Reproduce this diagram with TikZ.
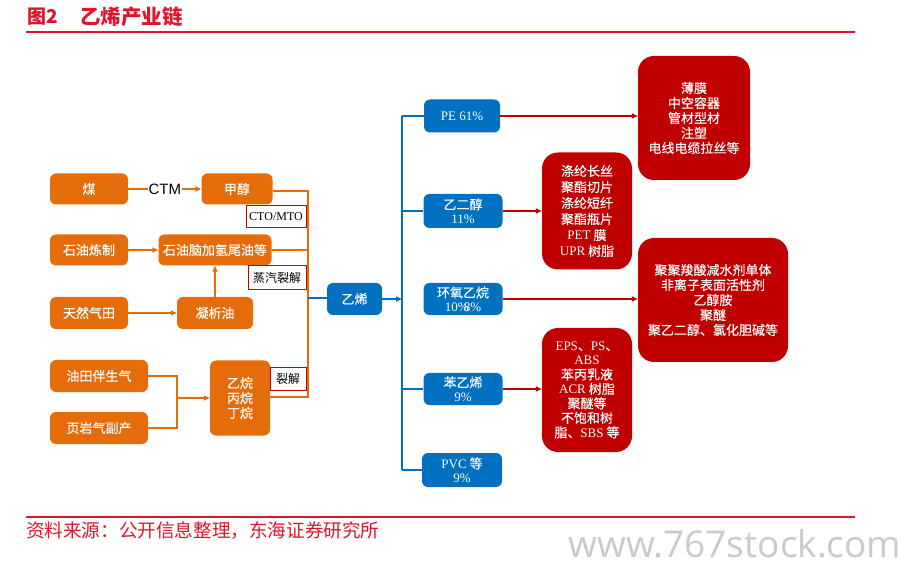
\documentclass[tikz,border=0pt]{standalone}
\usepackage{fontspec}
\setmainfont{Noto Sans CJK SC}
\newfontfamily\cjkm[FakeBold=0.3]{Noto Sans CJK SC}
\newfontfamily\lat{Liberation Serif}
\newfontfamily\arial{Liberation Sans}
\newfontfamily\wm{Open Sans}
\usetikzlibrary{arrows.meta}
\definecolor{orangeC}{HTML}{E46C0A}
\definecolor{blueC}{HTML}{0070C0}
\definecolor{redC}{HTML}{C00000}
\definecolor{titleC}{HTML}{E0142B}
\definecolor{wmC}{HTML}{CACACA}
\tikzset{
  orbox/.style={fill=orangeC, rounded corners=6pt, text=white, font=\cjkm\fontsize{13}{15}\selectfont, inner sep=1pt, align=center},
  bluebox/.style={fill=blueC, rounded corners=6pt, text=white, font=\cjkm\fontsize{13}{14}\selectfont, inner sep=1pt, align=center},
  redbox/.style={fill=redC, rounded corners=16pt, text=white, font=\cjkm\fontsize{13}{15}\selectfont, inner sep=1pt, align=center},
  lblbox/.style={fill=white, draw=redC, line width=1pt, text=black, font=\fontsize{12}{14}\selectfont, inner sep=1pt},
  orline/.style={draw=orangeC, line width=1.6pt},
  blline/.style={draw=blueC, line width=1.6pt},
  rdline/.style={draw=redC, line width=1.4pt},
  tip/.style={-{Triangle[length=6pt,width=5pt]}},
  rule/.style={draw=titleC, line width=2pt}
}
\begin{document}
\begin{tikzpicture}[x=1pt,y=-1pt]
\useasboundingbox[fill=white] (0,0) rectangle (908,585);
% title
\node[anchor=west, text=titleC, font=\fontsize{19}{21}\selectfont\bfseries, inner sep=0pt] (t1) at (27,17) {图2};
\node[anchor=west, text=titleC, font=\fontsize{20.5}{22}\selectfont\bfseries, inner sep=0pt] (t2) at (80,17) {乙烯产业链};
\coordinate (ra) at (26,32); \coordinate (rb) at (855,32);
\draw[rule] (ra) -- (rb);
\coordinate (rc) at (26,517); \coordinate (rd) at (855,517);
\draw[rule] (rc) -- (rd);
\node[anchor=west, text=titleC, font=\fontsize{18.6}{20}\selectfont, inner sep=0pt] (src) at (26,531) {资料来源：公开信息整理，东海证券研究所};
\node[text=wmC, font=\wm\fontsize{37}{40}\selectfont, inner sep=0pt] (wm) at (735,544) {www.767stock.com};

% orange boxes
\node[orbox, minimum width=78, minimum height=31] (mei) at (89,189) {煤};
\node[orbox, minimum width=71, minimum height=31] (jc) at (237,189) {甲醇};
\node[orbox, minimum width=78, minimum height=31] (sylz) at (89,250) {石油炼制};
\node[orbox, minimum width=113, minimum height=31] (syn) at (215,250) {石油脑加氢尾油等};
\node[orbox, minimum width=78, minimum height=32] (trq) at (89,313) {天然气田};
\node[orbox, minimum width=76, minimum height=32] (nxy) at (215,313) {凝析油};
\node[orbox, minimum width=98, minimum height=32] (ytb) at (99,376) {油田伴生气};
\node[orbox, minimum width=98, minimum height=32] (yyq) at (99,428) {页岩气副产};
\node[orbox, minimum width=60, minimum height=75] (yw) at (240,398) {乙烷\\丙烷\\丁烷};

% orange connectors
\draw[orline, tip] (mei) -- node[fill=white, text=black, font=\arial\fontsize{15}{16}\selectfont, inner sep=1pt] (ctm) {CTM} (jc);
\draw[orline, tip] (sylz) -- (syn);
\draw[orline, tip] (trq) -- (nxy);
\draw[orline, tip] (nxy) -- (syn);
\coordinate (m1) at (177,376);
\coordinate (m2) at (177,428);
\coordinate (m3) at (177,398);
\draw[orline] (ytb.east |- m1) -- (m1) -- (m2) -- (yyq.east |- m2);
\draw[orline, tip] (m3) -- (m3 -| yw.west);
\coordinate (bt) at (308,191);
\coordinate (bm) at (308,250);
\coordinate (bx) at (308,298);
\coordinate (bb) at (308,397);
\draw[orline] (jc.east |- bt) -- (bt) -- (bb) -- (yw.east |- bb);
\draw[orline] (syn.east) -- (bm);
\node[lblbox, minimum width=60, minimum height=22] (cto) at (276,217) {\lat CTO/MTO};
\node[lblbox, minimum width=58, minimum height=24] (zq) at (277,278) {蒸汽裂解};
\node[lblbox, minimum width=36, minimum height=22] (lj) at (288,379) {裂解};

% ethylene
\node[bluebox, minimum width=55, minimum height=32] (yx) at (354.5,299) {乙烯};
\draw[blline] (bx) -- (bx -| yx.west);
\coordinate (pt) at (402,116);
\coordinate (pb) at (402,470);
\coordinate (pm) at (402,299);
\draw[blline, tip] (yx.east) -- (pm);

% blue product boxes
\node[bluebox, minimum width=76, minimum height=33] (pe) at (462,116) {\lat PE 61\%};
\node[bluebox, minimum width=79, minimum height=34] (eg) at (463,211) {乙二醇\\\lat 11\%};
\node[bluebox, minimum width=79, minimum height=32] (eo) at (463,299) {环氧乙烷\\\lat 10\%\kern-5pt8\%};
\node[bluebox, minimum width=79, minimum height=32] (sm) at (463,389) {苯乙烯\\\lat 9\%};
\node[bluebox, minimum width=80, minimum height=34] (pvc) at (462,470) {{\lat PVC} 等\\\lat 9\%};
\draw[blline] (pt) -- (pb);
\draw[blline] (pt) -- (pe.west |- pt);
\draw[blline] (eg.west -| pt) -- (eg.west);
\draw[blline] (sm.west -| pt) -- (sm.west);
\draw[blline] (pb) -- (pvc.west |- pb);

% red boxes
\node[redbox, minimum width=112, minimum height=124] (r1) at (694,118) {薄膜\\中空容器\\管材型材\\注塑\\电线电缆拉丝等};
\node[redbox, minimum width=90, minimum height=117, font=\cjkm\fontsize{13}{16}\selectfont] (r2) at (587,211) {涤纶长丝\\聚酯切片\\涤纶短纤\\聚酯瓶片\\{\lat PET} 膜\\{\lat UPR} 树脂};
\node[redbox, minimum width=150, minimum height=124] (r3) at (713,300) {聚聚羧酸减水剂单体\\非离子表面活性剂\\乙醇胺\\聚醚\\聚乙二醇、氯化胆碱等};
\node[redbox, minimum width=90, minimum height=124, font=\cjkm\fontsize{13}{14.5}\selectfont] (r4) at (587,390) {{\lat EPS}、{\lat PS}、\\{\lat ABS}\\苯丙乳液\\{\lat ACR} 树脂\\聚醚等\\不饱和树\\脂、{\lat SBS} 等};
\draw[rdline, tip] (pe.east) -- (pe.east -| r1.west);
\draw[rdline, tip] (eg.east) -- (eg.east -| r2.west);
\draw[rdline, tip] (eo.east) -- (eo.east -| r3.west);
\draw[rdline, tip] (sm.east) -- (sm.east -| r4.west);
\end{tikzpicture}
\end{document}
